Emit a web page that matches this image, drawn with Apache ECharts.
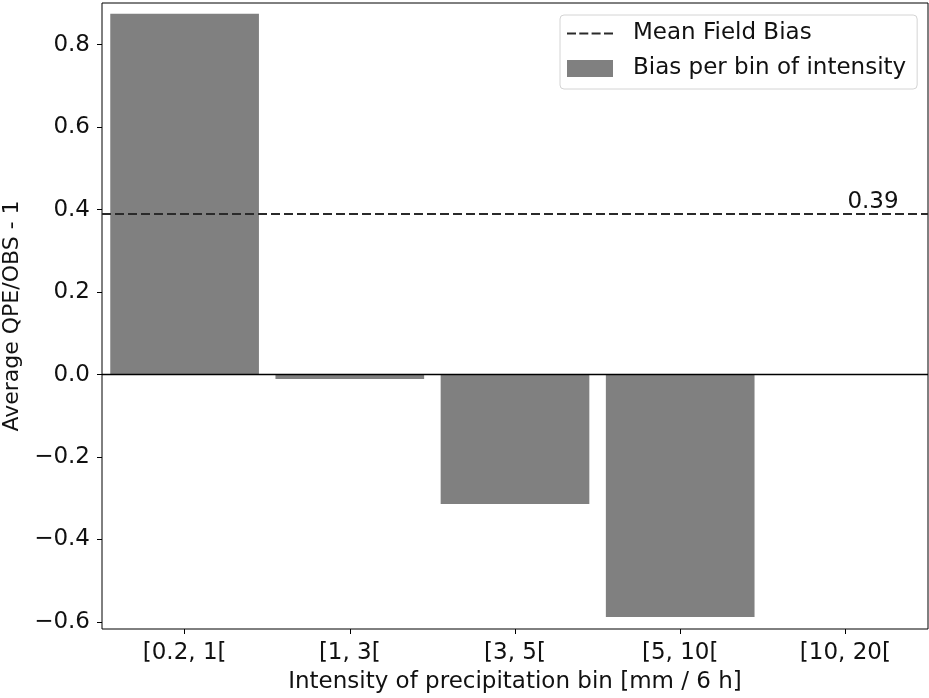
<!DOCTYPE html>
<html>
<head>
<meta charset="utf-8">
<script src="https://cdn.jsdelivr.net/npm/echarts@6/dist/echarts.min.js"></script>
<style>
  html, body { margin: 0; padding: 0; background: #fff; }
  #chart { width: 929px; height: 698px; }
</style>
</head>
<body>
<div id="chart"></div>
<script>
// Intensity bins and the relative bias of each bin
const categories = ['[0.2, 1[', '[1, 3[', '[3, 5[', '[5, 10[', '[10, 20['];
const binBias = [0.875, -0.011, -0.314, -0.588, null];
const meanFieldBias = 0.39;
const yTicks = [-0.6, -0.4, -0.2, 0.0, 0.2, 0.4, 0.6, 0.8];
const yRange = [-0.617, 0.901];

const FONT = 'DejaVu Sans';
const FS = 23;
const TEXT = '#111';

function fmtTick(v) {
  const s = Math.abs(v).toFixed(1);
  return (v < -1e-9 ? '\u2212' : '') + s;
}

const chart = echarts.init(document.getElementById('chart'), null, { renderer: 'canvas' });

chart.setOption({
  animation: false,
  backgroundColor: '#fff',
  textStyle: { fontFamily: FONT },
  grid: {
    left: 102, right: 1, top: 3, bottom: 69,
    containLabel: false,
    outerBoundsMode: 'none',
    show: true, borderColor: '#000', borderWidth: 1, backgroundColor: 'transparent'
  },
  legend: {
    orient: 'vertical',
    left: 560, top: 15,
    padding: [7, 11, 9, 7],
    itemGap: 12,
    itemWidth: 46, itemHeight: 17,
    backgroundColor: 'rgba(255,255,255,0.8)',
    borderColor: '#d4d4d4', borderWidth: 1, borderRadius: 4,
    textStyle: { fontFamily: FONT, fontSize: FS, color: TEXT, lineHeight: 23, padding: [0, 0, 0, 15] },
    data: [
      { name: 'Mean Field Bias',
        icon: 'path://M0,0h9v2.2h-9z M12.3,0h9v2.2h-9z M24.6,0h9v2.2h-9z M37,0h9v2.2h-9z',
        itemStyle: { color: '#2a2a2a' } },
      { name: 'Bias per bin of intensity', icon: 'rect', itemStyle: { color: '#808080' } }
    ]
  },
  xAxis: {
    type: 'category',
    data: categories,
    boundaryGap: true,
    name: 'Intensity of precipitation bin [mm / 6 h]',
    nameLocation: 'middle',
    nameGap: 42,
    nameTextStyle: { fontFamily: FONT, fontSize: FS, color: TEXT },
    axisLine: { show: false, onZero: false },
    axisTick: { show: true, alignWithLabel: true, length: 5, lineStyle: { color: '#000', width: 1 } },
    axisLabel: { fontFamily: FONT, fontSize: FS, color: TEXT, margin: 13 },
    splitLine: { show: false }
  },
  yAxis: {
    type: 'value',
    min: yRange[0], max: yRange[1],
    name: 'Average QPE/OBS - 1',
    nameLocation: 'middle',
    nameGap: 73,
    nameTextStyle: { fontFamily: FONT, fontSize: 22, color: TEXT },
    axisLine: { show: false },
    axisTick: { show: true, length: 5, customValues: yTicks, lineStyle: { color: '#000', width: 1 } },
    axisLabel: { fontFamily: FONT, fontSize: FS, color: TEXT, margin: 12,
                 customValues: yTicks, formatter: fmtTick },
    splitLine: { show: false }
  },
  series: [
    {
      name: 'Bias per bin of intensity',
      type: 'bar',
      data: binBias,
      barWidth: '90%',
      itemStyle: { color: '#808080' },
      markLine: {
        silent: true,
        symbol: ['none', 'none'],
        label: { show: false },
        lineStyle: { color: '#000', width: 1.3, type: 'solid' },
        data: [{ yAxis: 0 }]
      },
      z: 2
    },
    {
      name: 'Mean Field Bias',
      type: 'line',
      data: [],
      color: '#2a2a2a',
      showSymbol: false,
      markLine: {
        silent: true,
        symbol: ['none', 'none'],
        label: { show: false },
        lineStyle: { color: '#2a2a2a', width: 2.2, type: [9, 4] },
        data: [{ yAxis: meanFieldBias }]
      },
      markPoint: {
        silent: true,
        symbol: 'circle',
        symbolSize: 0,
        data: [{ coord: [categories[4], meanFieldBias] }],
        label: {
          show: true,
          position: [2, 0],
          align: 'left',
          verticalAlign: 'bottom',
          fontFamily: FONT, fontSize: FS, color: TEXT,
          formatter: function () { return meanFieldBias.toFixed(2); }
        }
      },
      z: 3
    }
  ]
});
</script>
</body>
</html>
